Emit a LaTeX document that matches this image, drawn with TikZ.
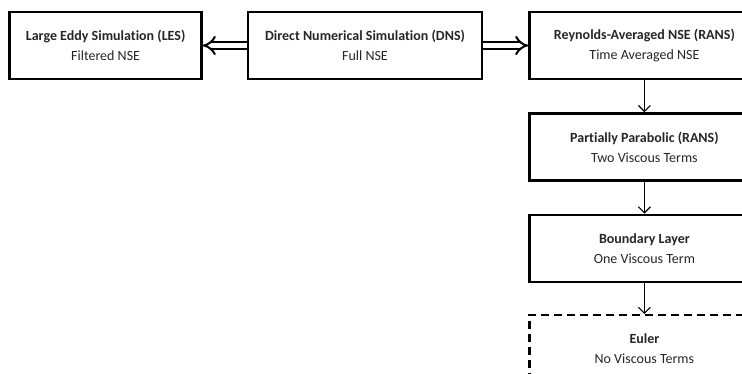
\documentclass[tikz,border=0pt]{standalone}
\usepackage{fontspec}
\setmainfont[Ligatures=NoCommon]{Carlito}
\usetikzlibrary{positioning,arrows.meta}

\tikzset{
  model/.style={draw, line width=2.4pt, minimum height=67pt, align=center,
    font=\fontsize{14pt}{20pt}\selectfont, text=black!85},
  wide/.style={model, minimum width=234pt},
  narrow/.style={model, minimum width=192pt},
  reduce/.style={draw, line width=1.1pt, -{Straight Barb[length=6pt, width=12pt]}},
  branch/.style={double, double distance=4.5pt, line width=2pt, -{Implies}},
}

\begin{document}
\begin{tikzpicture}[x=1pt, y=1pt]
      \useasboundingbox (0,0) rectangle (742,-373);
      \clip (0,0) rectangle (742,-373);

      % top row
      \node[wide] (dns) at (365,-45.5) {\textbf{Direct Numerical Simulation (DNS)}\\Full NSE};
      \node[narrow, left=44pt of dns] (les) {\textbf{Large Eddy Simulation (LES)}\\Filtered NSE};
      \node[wide, minimum width=230pt, right=45pt of dns] (rans) {\textbf{Reynolds-Averaged NSE (RANS)}\\Time Averaged NSE};

      % right column
      \node[wide, minimum width=230pt, below=32pt of rans] (pp) {\textbf{Partially Parabolic (RANS)}\\Two Viscous Terms};
      \node[wide, minimum width=230pt, below=32pt of pp] (bl) {\textbf{Boundary Layer}\\One Viscous Term};
      \node[wide, minimum width=230pt, below=31pt of bl, dashed, dash pattern=on 8pt off 5pt] (euler) {\textbf{Euler}\\No Viscous Terms};

      \draw[branch] (dns) -- (les);
      \draw[branch] (dns) -- (rans);

      \draw[reduce] (rans) -- (pp);
      \draw[reduce] (pp) -- (bl);
      \draw[reduce] (bl) -- (euler);
    \end{tikzpicture}
\end{document}
